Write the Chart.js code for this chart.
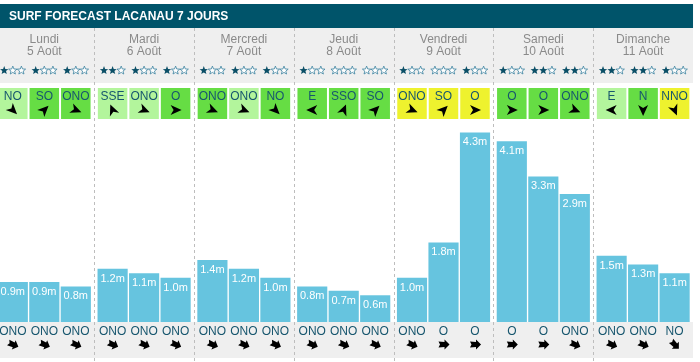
<!DOCTYPE html>
<html>
<head>
<meta charset="utf-8">
<script src="https://cdn.jsdelivr.net/npm/chart.js@4"></script>
<style>
html,body{margin:0;padding:0;background:#fff;}
#wrap{width:700px;height:362px;position:relative;}
</style>
</head>
<body>
<div id="wrap"><canvas id="c" width="700" height="362"></canvas></div>
<script>
// ---- data ----
const title = 'SURF FORECAST LACANAU 7 JOURS';
const days = ['Lundi','Mardi','Mercredi','Jeudi','Vendredi','Samedi','Dimanche'];
const dates = ['5 Août','6 Août','7 Août','8 Août','9 Août','10 Août','11 Août'];
const waveHeights = [0.9,0.9,0.8, 1.2,1.1,1.0, 1.4,1.2,1.0, 0.8,0.7,0.6, 1.0,1.8,4.3, 4.1,3.3,2.9, 1.5,1.3,1.1];
const starRatings = [1,1,1, 2,1,1, 1,1,1, 1,0,0, 1,0,1, 1,2,2, 2,2,1];
const windDirs = ['NO','SO','ONO', 'SSE','ONO','O', 'ONO','ONO','NO', 'E','SSO','SO', 'ONO','SO','O', 'O','O','ONO', 'E','N','NNO'];
const windLevels = [1,2,2, 1,1,2, 2,1,2, 2,2,2, 3,3,3, 2,2,2, 1,2,3];
const swellDirs = ['ONO','ONO','ONO', 'ONO','ONO','ONO', 'ONO','ONO','ONO', 'ONO','ONO','ONO', 'ONO','O','O', 'O','O','ONO', 'ONO','ONO','NO'];

// ---- style ----
const SLOT = 0.3156;
const FONT = '"Liberation Sans", Arial, sans-serif';
const BAR_COLOR = '#66c4df';
const LEVEL_COLORS = {1:'#b3f59c', 2:'#66dd44', 3:'#eef22e'};
const TEAL = '#00546a';
const TEXT_TEAL = '#17566e';
const DIR_DEG = {N:0,NNE:22.5,NE:45,ENE:67.5,E:90,ESE:112.5,SE:135,SSE:157.5,S:180,SSO:202.5,SO:225,OSO:247.5,O:270,ONO:292.5,NO:315,NNO:337.5};

const points = waveHeights.map((h,i)=>({x: Math.floor(i/3) + (i%3-1)*SLOT, y: h}));

function star(ctx, cx, cy, ro, ri){
  ctx.beginPath();
  for(let k=0;k<10;k++){
    const r = k%2===0 ? ro : ri;
    const a = -Math.PI/2 + k*Math.PI/5;
    const px = cx + r*Math.cos(a), py = cy + r*Math.sin(a);
    if(k===0) ctx.moveTo(px,py); else ctx.lineTo(px,py);
  }
  ctx.closePath();
}
function windArrow(ctx, cx, cy, dir){
  const ang = (DIR_DEG[dir]+180)*Math.PI/180;
  ctx.save(); ctx.translate(cx,cy); ctx.rotate(ang);
  ctx.beginPath();
  ctx.moveTo(0,-6); ctx.lineTo(5,5); ctx.lineTo(0,2); ctx.lineTo(-5,5); ctx.closePath();
  ctx.fillStyle='#000'; ctx.fill();
  ctx.restore();
}
function swellArrow(ctx, cx, cy, dir){
  const ang = (DIR_DEG[dir]+180)*Math.PI/180;
  ctx.save(); ctx.translate(cx,cy); ctx.rotate(ang);
  ctx.beginPath();
  ctx.moveTo(0,-6); ctx.lineTo(5,-1); ctx.lineTo(2.5,-1); ctx.lineTo(3,5);
  ctx.lineTo(0,3.5); ctx.lineTo(-3,5); ctx.lineTo(-2.5,-1); ctx.lineTo(-5,-1); ctx.closePath();
  ctx.fillStyle='#000'; ctx.fill();
  ctx.restore();
}

const decor = {
  id:'decor',
  beforeDatasetsDraw(chart){
    const ctx = chart.ctx, xs = chart.scales.x, ys = chart.scales.y;
    const left = Math.max(0, xs.getPixelForValue(-0.5)), right = xs.getPixelForValue(days.length-0.5);
    const base = ys.getPixelForValue(0);
    ctx.save();
    // header band
    ctx.fillStyle = TEAL;
    ctx.fillRect(0, 4, right, 24);
    ctx.fillStyle = '#fff';
    ctx.font = 'bold 12px '+FONT;
    ctx.textBaseline='middle'; ctx.textAlign='left';
    ctx.fillText(title, 9, 16.5);
    // gray bands
    ctx.fillStyle = '#efefef';
    ctx.fillRect(left, 28, right-left, 55);
    ctx.fillRect(left, base, right-left, 36);
    // separators
    ctx.strokeStyle = '#bdbdbd'; ctx.lineWidth = 1; ctx.setLineDash([3,3]);
    for(let d=0; d<days.length-1; d++){
      const px = Math.round(xs.getPixelForValue(d+0.5))+0.5;
      ctx.beginPath(); ctx.moveTo(px, 28); ctx.lineTo(px, 362); ctx.stroke();
    }
    ctx.setLineDash([]);
    // day labels
    ctx.textAlign='center'; ctx.fillStyle='#8a8a8a'; ctx.font='12px '+FONT;
    days.forEach((d,i)=>{
      const px = xs.getPixelForValue(i);
      ctx.fillText(d, px, 39.5);
      ctx.fillText(dates[i], px, 51.5);
    });
    // per slot items
    points.forEach((p,i)=>{
      const cx = xs.getPixelForValue(p.x);
      // stars
      for(let k=0;k<3;k++){
        const sx = cx + (k-1)*8.6;
        star(ctx, sx, 70.5, 4.4, 1.9);
        if(k < starRatings[i]){ ctx.fillStyle='#0b4f67'; ctx.fill(); }
        else { ctx.fillStyle='#fff'; ctx.fill(); ctx.strokeStyle='#3a82a0'; ctx.lineWidth=0.8; ctx.stroke(); }
      }
      // wind box
      ctx.fillStyle = LEVEL_COLORS[windLevels[i]];
      ctx.fillRect(cx-14.75, 88, 29.5, 31);
      ctx.fillStyle = TEXT_TEAL; ctx.font='12px '+FONT; ctx.textAlign='center';
      ctx.fillText(windDirs[i], cx, 97);
      windArrow(ctx, cx, 110, windDirs[i]);
      // swell
      ctx.fillStyle = TEXT_TEAL; ctx.font='12px '+FONT;
      ctx.fillText(swellDirs[i], cx, base+9.5);
      swellArrow(ctx, cx, base+22.5, swellDirs[i]);
    });
    ctx.restore();
  },
  afterDatasetsDraw(chart){
    const ctx = chart.ctx, meta = chart.getDatasetMeta(0);
    ctx.save();
    ctx.fillStyle='#fff'; ctx.font='11px '+FONT; ctx.textAlign='center'; ctx.textBaseline='middle';
    meta.data.forEach((bar,i)=>{
      ctx.fillText(waveHeights[i].toFixed(1)+'m', bar.x, bar.y+9.5);
    });
    ctx.restore();
  }
};

new Chart(document.getElementById('c'), {
  type:'bar',
  data:{ datasets:[{ data: points, backgroundColor: BAR_COLOR, borderWidth:0, barThickness:29.5 }] },
  options:{
    responsive:false, animation:false,
    layout:{ padding:{left:0,right:0,top:0,bottom:40} },
    plugins:{ legend:{display:false}, tooltip:{enabled:false} },
    scales:{
      x:{ type:'linear', display:false, offset:false, min:-0.4439, max:6.570 },
      y:{ display:false, min:0, max:7.318 }
    }
  },
  plugins:[decor]
});
</script>
</body>
</html>
